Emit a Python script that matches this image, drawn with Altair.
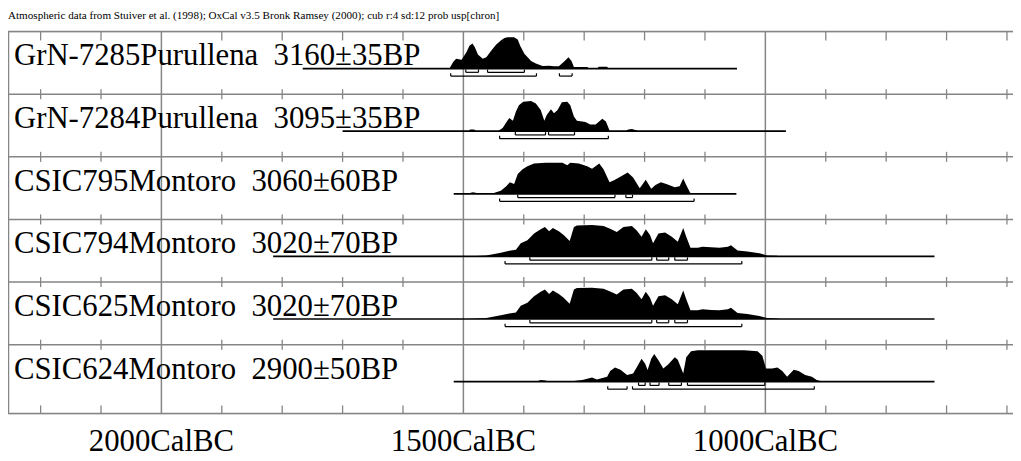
import altair as alt
import pandas as pd

title_text = ("Atmospheric data from Stuiver et al. (1998); OxCal v3.5 Bronk Ramsey (2000); "
              "cub r:4 sd:12 prob usp[chron]")

row_labels = [
    "GrN-7285Purullena\u00a0 3160±35BP",
    "GrN-7284Purullena\u00a0 3095±35BP",
    "CSIC795Montoro\u00a0 3060±60BP",
    "CSIC794Montoro\u00a0 3020±70BP",
    "CSIC625Montoro\u00a0 3020±70BP",
    "CSIC624Montoro\u00a0 2900±50BP",
]

# calibrated probability curves (years BC, relative probability)
r1_year = [1523, 1517, 1512, 1503, 1495, 1490, 1485, 1481, 1476, 1468, 1462, 1454, 1446, 1438, 1432, 1427,
           1416, 1410, 1406, 1399, 1388, 1380, 1369, 1358, 1350, 1342, 1334, 1326, 1321, 1317, 1295, 1292,
           1278, 1276, 1262, 1260]
r1_prob = [0, 0.21, 0.31, 0.28, 0.52, 0.73, 0.80, 0.68, 0.45, 0.31, 0.36, 0.57, 0.76, 0.90, 0.98, 1.0,
           1.0, 0.93, 0.73, 0.47, 0.24, 0.16, 0.08, 0.09, 0.07, 0.07, 0.21, 0.36, 0.24, 0.05, 0.05, 0,
           0, 0.06, 0.06, 0]

r2_year = [1491, 1489, 1482, 1479, 1443, 1435, 1428, 1424, 1418, 1413, 1408, 1401, 1388, 1380, 1372, 1366,
           1362, 1355, 1350, 1344, 1337, 1328, 1323, 1317, 1312, 1298, 1290, 1281, 1270, 1264, 1258, 1257,
           1232, 1227, 1221, 1214, 1211]
r2_prob = [0, 0.05, 0.05, 0, 0, 0.10, 0.31, 0.42, 0.33, 0.63, 0.83, 0.94, 0.96, 0.88, 0.68, 0.33,
           0.52, 0.70, 0.57, 0.68, 0.92, 0.94, 0.83, 0.47, 0.33, 0.29, 0.21, 0.21, 0.40, 0.31, 0.02, 0,
           0, 0.05, 0.07, 0.03, 0]

r3_year = [1495, 1484, 1472, 1451, 1438, 1429, 1423, 1416, 1410, 1402, 1394, 1383, 1364, 1336, 1328, 1323,
           1309, 1295, 1287, 1279, 1275, 1268, 1258, 1249, 1238, 1228, 1219, 1208, 1198, 1189, 1182, 1173,
           1164, 1150, 1142, 1136, 1131, 1125, 1123]
r3_prob = [0, 0.05, 0, 0.02, 0.10, 0.24, 0.37, 0.31, 0.63, 0.78, 0.88, 0.97, 0.99, 0.99, 0.91, 0.99,
           0.97, 0.88, 0.80, 0.91, 0.97, 0.78, 0.37, 0.45, 0.57, 0.68, 0.52, 0.18, 0.45, 0.16, 0.28, 0.37,
           0.31, 0.21, 0.24, 0.49, 0.28, 0.05, 0]

r4_year = [1495, 1462, 1438, 1424, 1413, 1405, 1394, 1383, 1372, 1365, 1358, 1352, 1342, 1334, 1324, 1317,
           1312, 1287, 1268, 1257, 1246, 1235, 1221, 1213, 1205, 1198, 1191, 1186, 1177, 1166, 1155, 1145,
           1136, 1131, 1124, 1112, 1104, 1090, 1076, 1062, 1057, 1046, 1030, 1010, 997, 981, 975]
r4_prob = [0, 0.03, 0.12, 0.18, 0.21, 0.42, 0.52, 0.73, 0.87, 0.94, 0.80, 0.91, 0.80, 0.68, 0.49, 0.94,
           0.99, 1.0, 0.97, 0.88, 0.78, 0.94, 0.97, 0.83, 0.63, 0.87, 0.68, 0.42, 0.73, 0.76, 0.63, 0.47,
           0.91, 0.63, 0.28, 0.28, 0.31, 0.29, 0.28, 0.31, 0.36, 0.19, 0.16, 0.10, 0.03, 0.02, 0]

r5_year = [1495, 1462, 1438, 1424, 1413, 1405, 1394, 1383, 1372, 1365, 1358, 1352, 1342, 1334, 1324, 1317,
           1312, 1287, 1268, 1257, 1246, 1235, 1221, 1213, 1205, 1198, 1191, 1186, 1177, 1166, 1155, 1145,
           1136, 1131, 1124, 1112, 1104, 1090, 1076, 1062, 1057, 1046, 1030, 1010, 997, 981, 975]
r5_prob = [0, 0.03, 0.12, 0.18, 0.21, 0.42, 0.52, 0.73, 0.87, 0.94, 0.80, 0.91, 0.80, 0.68, 0.49, 0.94,
           0.99, 1.0, 0.97, 0.88, 0.78, 0.94, 0.97, 0.83, 0.63, 0.87, 0.68, 0.42, 0.73, 0.76, 0.63, 0.47,
           0.91, 0.63, 0.28, 0.28, 0.31, 0.29, 0.28, 0.31, 0.36, 0.19, 0.16, 0.10, 0.03, 0.02, 0]

r6_year = [1380, 1372, 1364, 1359, 1323, 1314, 1303, 1287, 1279, 1262, 1257, 1249, 1240, 1229, 1219, 1211,
           1205, 1199, 1195, 1189, 1184, 1177, 1169, 1161, 1150, 1145, 1136, 1131, 1123, 1112, 1035, 1013,
           1005, 999, 989, 980, 972, 964, 953, 945, 934, 923, 915, 904]
r6_prob = [0, 0.05, 0.04, 0, 0, 0.03, 0.05, 0.13, 0.07, 0.16, 0.34, 0.45, 0.38, 0.21, 0.26, 0.52,
           0.73, 0.57, 0.37, 0.73, 0.88, 0.68, 0.42, 0.55, 0.78, 0.70, 0.26, 0.78, 0.97, 1.0, 1.0, 0.97,
           0.83, 0.42, 0.42, 0.45, 0.34, 0.16, 0.38, 0.34, 0.21, 0.16, 0.05, 0]

# extent of each curve's base line (years BC)
line_from = [1766, 1700, 1516, 1815, 1815, 1516]
line_to = [1047, 966, 1048, 720, 720, 720]

# 68.2% (level 1) and 95.4% (level 2) ranges
br_row = [0, 0, 0, 0, 1, 1, 1, 2, 2, 2, 3, 3, 3, 3, 4, 4, 4, 4, 5, 5, 5, 5, 5, 5]
br_level = [1, 1, 2, 2, 1, 1, 2, 1, 1, 2, 1, 1, 1, 2, 1, 1, 1, 2, 1, 1, 1, 1, 2, 2]
br_from = [1496, 1460, 1521, 1341, 1414, 1359, 1440, 1410, 1231, 1440, 1390, 1180, 1150, 1431,
           1390, 1180, 1150, 1431, 1210, 1191, 1160, 1129, 1261, 1220]
br_to = [1475, 1399, 1379, 1320, 1364, 1316, 1260, 1249, 1220, 1118, 1188, 1160, 1129, 1039,
         1188, 1160, 1129, 1039, 1199, 1176, 1139, 1001, 1229, 919]

axis_years = [2000, 1500, 1000]
axis_suffix = "CalBC"
minor_years = [2200, 2100, 1900, 1800, 1700, 1600, 1400, 1300, 1200, 1100, 900, 800, 700, 600]

# ---------------- layout constants (row units) ----------------
BASE = 0.59      # baseline position inside a row
AMP = 0.50       # height of a full-probability curve
LVL = {1: 0.06, 2: 0.12}
BOTTOM = 6.1
W, H = 1013, 385
GRAY = "#858585"
SERIF = "Liberation Serif"

years = [r1_year, r2_year, r3_year, r4_year, r5_year, r6_year]
probs = [r1_prob, r2_prob, r3_prob, r4_prob, r5_prob, r6_prob]

curve_rows = []
for i, (ys, ps) in enumerate(zip(years, probs)):
    for yr, p in zip(ys, ps):
        curve_rows.append({"row": i, "year": yr, "top": i + BASE - p * AMP, "base": i + BASE})
curves = pd.DataFrame(curve_rows)

lines = pd.DataFrame({"row": range(6), "start": line_from, "end": line_to,
                      "y": [i + BASE for i in range(6)],
                      "label": row_labels,
                      "ty": [i + BASE - 0.05 for i in range(6)]})

brackets = pd.DataFrame({"row": br_row, "level": br_level, "start": br_from, "end": br_to})
brackets["y"] = [r + BASE + LVL[l] for r, l in zip(br_row, br_level)]
brackets["y_up"] = brackets["y"] - 0.045
bracket_ends = pd.concat([
    brackets[["start", "y", "y_up"]].rename(columns={"start": "x"}),
    brackets[["end", "y", "y_up"]].rename(columns={"end": "x"}),
])

hlines = pd.DataFrame({"y": [0, 1, 2, 3, 4, 5, BOTTOM]})
tick_rows = []
for yr in minor_years:
    tick_rows.append({"x": yr, "y1": 0, "y2": 0.14})
    for b in range(1, 6):
        tick_rows.append({"x": yr, "y1": b - 0.08, "y2": b + 0.08})
    tick_rows.append({"x": yr, "y1": BOTTOM - 0.13, "y2": BOTTOM})
ticks = pd.DataFrame(tick_rows)
grid = pd.DataFrame({"x": axis_years, "lab": [f"{v}{axis_suffix}" for v in axis_years]})
title_df = pd.DataFrame({"t": [title_text]})

XS = alt.Scale(domain=[590, 2254], reverse=True, nice=False, zero=False)
YS = alt.Scale(domain=[0, BOTTOM], reverse=True, nice=False, zero=False)


def X(field):
    return alt.X(field, type="quantitative", scale=XS, axis=None, title=None)


def Y(field):
    return alt.Y(field, type="quantitative", scale=YS, axis=None, title=None)


grid_layer = alt.Chart(grid).mark_rule(color=GRAY, strokeWidth=1.5).encode(x=X("x"))

axis_labels = alt.Chart(grid).mark_text(align="center", baseline="alphabetic", font=SERIF,
                                        fontSize=31, color="black").encode(
    x=X("x"), y=alt.value(H + 38), text="lab:N")

title_layer = alt.Chart(title_df).mark_text(align="left", baseline="alphabetic", font=SERIF,
                                            fontSize=11.2, color="black").encode(
    x=alt.value(0), y=alt.value(-13), text="t:N")

hline_layer = alt.Chart(hlines).mark_rule(color=GRAY, strokeWidth=1.5).encode(y=Y("y"))

left_frame = alt.Chart(title_df).mark_rule(color=GRAY, strokeWidth=1.5).encode(
    x=alt.value(0.5), y=alt.value(0), y2=alt.value(H))

tick_layer = alt.Chart(ticks).mark_rule(color=GRAY, strokeWidth=1.3).encode(
    x=X("x"), y=Y("y1"), y2="y2")

base_layer = alt.Chart(lines).mark_rule(color="black", strokeWidth=1.7).encode(
    x=X("start"), x2="end", y=Y("y"))

area_layer = alt.Chart(curves).mark_area(color="black", opacity=1, interpolate="linear").encode(
    x=X("year"), y=Y("top"), y2="base", detail="row:N")

br_layer = alt.Chart(brackets).mark_rule(color="black", strokeWidth=1.2).encode(
    x=X("start"), x2="end", y=Y("y"))

br_end_layer = alt.Chart(bracket_ends).mark_rule(color="black", strokeWidth=1.2).encode(
    x=X("x"), y=Y("y"), y2="y_up")

text_layer = alt.Chart(lines).mark_text(align="left", baseline="alphabetic", font=SERIF,
                                        fontSize=31, color="black").encode(
    x=alt.value(6), y=Y("ty"), text="label:N")

chart = alt.layer(
    grid_layer, hline_layer, left_frame, tick_layer, base_layer, area_layer,
    br_layer, br_end_layer, text_layer, axis_labels, title_layer,
).properties(
    width=W, height=H,
    autosize=alt.AutoSizeParams(type="none"),
    padding={"left": 0, "top": 22, "right": 0, "bottom": 46},
).configure_view(stroke=None).configure(background="white")

chart.save("out.html", embed_options={"renderer": "svg", "actions": False})
